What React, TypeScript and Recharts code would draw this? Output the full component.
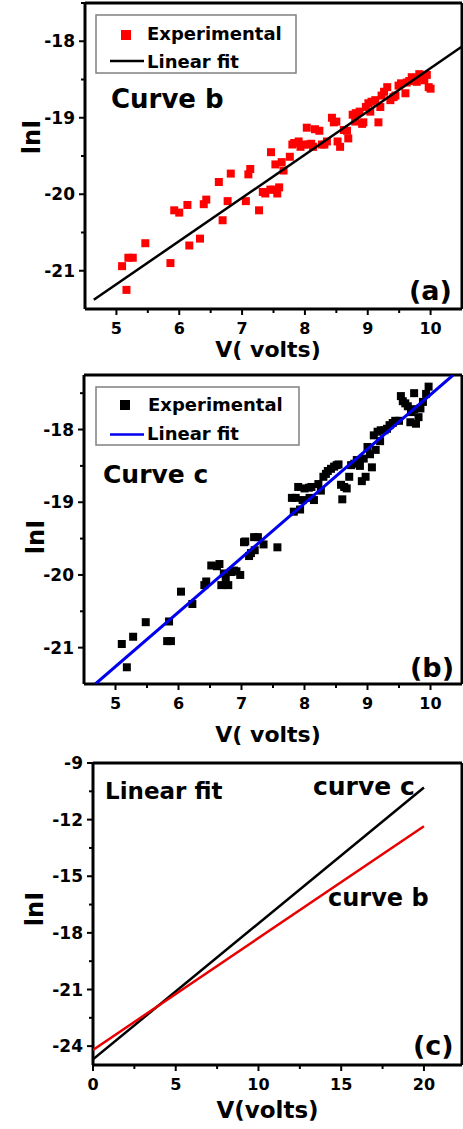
import { ScatterChart, Scatter, XAxis, YAxis, ZAxis, ReferenceLine } from "recharts";

// experimental points, [V (volts), lnI]
const expB: [number, number][] = [
  [5.09, -20.94], [5.16, -21.25], [5.19, -20.83], [5.26, -20.83], [5.46, -20.64],
  [5.86, -20.9], [5.92, -20.21], [6.0, -20.24], [6.13, -20.14], [6.16, -20.67],
  [6.33, -20.58], [6.39, -20.13], [6.43, -20.07], [6.63, -19.84], [6.69, -20.34],
  [6.77, -20.09], [6.82, -19.73], [7.06, -20.09], [7.1, -19.74], [7.13, -19.67],
  [7.27, -20.21], [7.33, -19.97], [7.37, -19.99], [7.45, -19.94], [7.5, -19.94],
  [7.56, -19.99], [7.59, -19.91], [7.53, -19.61], [7.63, -19.58], [7.66, -19.69],
  [7.46, -19.45], [7.76, -19.51], [7.8, -19.35], [7.83, -19.33], [7.9, -19.31],
  [7.93, -19.38], [7.98, -19.35], [8.06, -19.35], [8.1, -19.34], [8.03, -19.13],
  [8.16, -19.15], [8.23, -19.17], [8.13, -19.38], [8.27, -19.35], [8.31, -19.35],
  [8.35, -19.31], [8.43, -19.0], [8.46, -19.06], [8.5, -19.05], [8.52, -19.31],
  [8.56, -19.38], [8.62, -19.16], [8.67, -19.17], [8.69, -19.27], [8.76, -18.96],
  [8.81, -18.94], [8.87, -18.92], [8.8, -19.05], [8.91, -19.08], [8.93, -19.06],
  [8.97, -18.86], [9.01, -18.81], [9.06, -18.79], [9.12, -18.77], [9.04, -18.92],
  [9.17, -19.06], [9.2, -18.86], [9.22, -18.71], [9.26, -18.66], [9.31, -18.6],
  [9.36, -18.77], [9.41, -18.73], [9.44, -18.71], [9.49, -18.58], [9.53, -18.55],
  [9.6, -18.68], [9.62, -18.54], [9.66, -18.52], [9.7, -18.47], [9.74, -18.49],
  [9.78, -18.53], [9.82, -18.43], [9.86, -18.47], [9.9, -18.51], [9.94, -18.44],
  [9.97, -18.6], [10.0, -18.62],
];

const expC: [number, number][] = [
  [5.1, -20.95], [5.18, -21.27], [5.28, -20.85], [5.48, -20.65], [5.82, -20.91],
  [5.88, -20.91], [5.85, -20.64], [6.04, -20.23], [6.22, -20.4], [6.41, -20.14],
  [6.44, -20.09], [6.52, -19.87], [6.61, -19.88], [6.65, -19.85], [6.68, -20.14],
  [6.72, -19.98], [6.75, -20.04], [6.79, -20.14], [6.84, -19.96], [6.88, -19.94],
  [6.92, -19.95], [6.98, -20.0], [7.04, -19.55], [7.06, -19.54], [7.12, -19.74],
  [7.15, -19.7], [7.21, -19.66], [7.2, -19.48], [7.26, -19.48], [7.35, -19.58],
  [7.57, -19.62], [7.83, -19.13], [7.93, -19.1], [7.8, -18.94], [7.86, -18.94],
  [7.97, -18.97], [7.9, -18.79], [8.0, -18.81], [8.07, -18.8], [8.11, -18.79],
  [8.08, -18.94], [8.15, -18.97], [8.22, -18.75], [8.26, -18.84], [8.3, -18.65],
  [8.34, -18.61], [8.37, -18.57], [8.42, -18.54], [8.47, -18.51], [8.51, -18.49],
  [8.54, -18.48], [8.58, -18.76], [8.63, -18.79], [8.67, -18.81], [8.6, -18.96],
  [8.71, -18.65], [8.74, -18.49], [8.79, -18.47], [8.83, -18.42], [8.88, -18.5],
  [8.91, -18.71], [8.97, -18.65], [8.94, -18.4], [9.0, -18.24], [9.04, -18.34],
  [9.07, -18.52], [9.13, -18.28], [9.1, -18.08], [9.16, -18.03], [9.21, -18.01],
  [9.2, -18.16], [9.27, -18.01], [9.31, -17.99], [9.35, -17.94], [9.4, -17.91],
  [9.44, -17.88], [9.5, -17.88], [9.53, -17.54], [9.56, -17.61], [9.6, -17.64],
  [9.64, -17.68], [9.68, -17.9], [9.77, -17.92], [9.69, -17.76], [9.74, -17.72],
  [9.74, -17.5], [9.81, -17.83], [9.84, -17.71], [9.88, -17.62], [9.93, -17.51],
  [9.97, -17.41],
];

// linear fits (end points)
const fitB: [number, number][] = [[4.64, -21.38], [10.5, -18.07]];
const fitC: [number, number][] = [[4.68, -21.5], [10.36, -17.25]];
const fitCWide: [number, number][] = [[0, -24.7], [20, -10.3]];
const fitBWide: [number, number][] = [[0, -24.2], [20, -12.35]];

// axes
const aXDomain = [4.5, 10.5];
const aYDomain = [-21.5, -17.5];
const bYDomain = [-21.5, -17.25];
const cXDomain = [0, 22.3];
const cYDomain = [-25, -9];
const voltTicks = [5, 5.5, 6, 6.5, 7, 7.5, 8, 8.5, 9, 9.5, 10];
const lnITicks = [-21, -20.5, -20, -19.5, -19, -18.5, -18, -17.5];
const cXTicks = [0, 2.5, 5, 7.5, 10, 12.5, 15, 17.5, 20];
const cYTicks = [-24, -22.5, -21, -19.5, -18, -16.5, -15, -13.5, -12, -10.5, -9];

const FONT = "DejaVu Sans";
const pts = (a: [number, number][]) => a.map(([x, y]) => ({ x, y }));
const isInt = (v: number) => Number.isInteger(v);

const bottomTick = (major: (v: number) => boolean) => (p: any) => {
  const { x, y, payload } = p;
  const big = major(payload.value);
  return (
    <g>
      <line x1={x} y1={y} x2={x} y2={y + (big ? 6 : 4)} stroke="#000" strokeWidth={2} />
      {big && (
        <text x={x} y={y + 25} textAnchor="middle" fontSize={16} fontWeight="bold" fontFamily={FONT} fill="#000">
          {payload.value}
        </text>
      )}
    </g>
  );
};

const leftTick = (major: (v: number) => boolean) => (p: any) => {
  const { x, y, payload } = p;
  const big = major(payload.value);
  return (
    <g>
      <line x1={x - (big ? 6 : 4)} y1={y} x2={x} y2={y} stroke="#000" strokeWidth={2} />
      {big && (
        <text x={x - 10} y={y + 6} textAnchor="end" fontSize={17} fontWeight="bold" fontFamily={FONT} fill="#000">
          {payload.value}
        </text>
      )}
    </g>
  );
};

const axisLine = { stroke: "#000", strokeWidth: 3 };
const noShape = () => <g />;

export default function App() {
  const t = { fontFamily: FONT, fontWeight: "bold" as const, fill: "#000" };
  return (
    <div style={{ position: "absolute", left: 0, top: 0, width: 463, height: 1129, background: "#fff" }}>
      {/* (a) curve b */}
      <div style={{ position: "absolute", left: 0, top: 0 }}>
        <ScatterChart width={463} height={360} margin={{ top: 3, right: 1, bottom: 0, left: 0 }}>
          <XAxis dataKey="x" type="number" domain={aXDomain} ticks={voltTicks} interval={0} allowDataOverflow
            height={51} tickSize={0} tickMargin={0} tickLine={false} axisLine={axisLine} tick={bottomTick(isInt)} />
          <YAxis dataKey="y" type="number" domain={aYDomain} ticks={lnITicks} interval={0} allowDataOverflow
            width={85} tickSize={0} tickMargin={0} tickLine={false} axisLine={axisLine} tick={leftTick(isInt)} />
          <ZAxis range={[40, 40]} />
          <ReferenceLine y={aYDomain[1]} stroke="#000" strokeWidth={3} />
          <ReferenceLine x={aXDomain[1]} stroke="#000" strokeWidth={3} />
          <Scatter data={pts(expB)} fill="#ff0000" shape="square" isAnimationActive={false} />
          <Scatter data={pts(fitB)} line={{ stroke: "#000", strokeWidth: 2.5 }} shape={noShape} isAnimationActive={false} />
        </ScatterChart>
      </div>

      {/* (b) curve c */}
      <div style={{ position: "absolute", left: 0, top: 370 }}>
        <ScatterChart width={463} height={370} margin={{ top: 5, right: 1, bottom: 0, left: 0 }}>
          <XAxis dataKey="x" type="number" domain={aXDomain} ticks={voltTicks} interval={0} allowDataOverflow
            height={56} tickSize={0} tickMargin={0} tickLine={false} axisLine={axisLine} tick={bottomTick(isInt)} />
          <YAxis dataKey="y" type="number" domain={bYDomain} ticks={lnITicks} interval={0} allowDataOverflow
            width={84} tickSize={0} tickMargin={0} tickLine={false} axisLine={axisLine} tick={leftTick(isInt)} />
          <ZAxis range={[40, 40]} />
          <ReferenceLine y={bYDomain[1]} stroke="#000" strokeWidth={3} />
          <ReferenceLine x={aXDomain[1]} stroke="#000" strokeWidth={3} />
          <Scatter data={pts(expC)} fill="#000" shape="square" isAnimationActive={false} />
          <Scatter data={pts(fitC)} line={{ stroke: "#0000ee", strokeWidth: 3 }} shape={noShape} isAnimationActive={false} />
        </ScatterChart>
      </div>

      {/* (c) both fits extended */}
      <div style={{ position: "absolute", left: 0, top: 740 }}>
        <ScatterChart width={463} height={389} margin={{ top: 23, right: 1, bottom: 0, left: 0 }}>
          <XAxis dataKey="x" type="number" domain={cXDomain} ticks={cXTicks} interval={0} allowDataOverflow
            height={64} tickSize={0} tickMargin={0} tickLine={false} axisLine={axisLine} tick={bottomTick((v) => v % 5 === 0)} />
          <YAxis dataKey="y" type="number" domain={cYDomain} ticks={cYTicks} interval={0} allowDataOverflow
            width={93} tickSize={0} tickMargin={0} tickLine={false} axisLine={axisLine} tick={leftTick((v) => v % 3 === 0)} />
          <ReferenceLine y={cYDomain[1]} stroke="#000" strokeWidth={3} />
          <ReferenceLine x={cXDomain[1]} stroke="#000" strokeWidth={3} />
          <Scatter data={pts(fitCWide)} line={{ stroke: "#000", strokeWidth: 2.5 }} shape={noShape} isAnimationActive={false} />
          <Scatter data={pts(fitBWide)} line={{ stroke: "#e80000", strokeWidth: 2.5 }} shape={noShape} isAnimationActive={false} />
        </ScatterChart>
      </div>

      {/* legends and labels */}
      <svg width={463} height={1129} style={{ position: "absolute", left: 0, top: 0, pointerEvents: "none" }}>
        <rect x={96} y={15} width={200} height={58} fill="#fff" stroke="#808080" strokeWidth={1.5} />
        <rect x={121} y={30} width={10} height={10} fill="#ff0000" />
        <text x={147} y={39.5} fontSize={18} {...t}>Experimental</text>
        <line x1={110} y1={61} x2={144} y2={61} stroke="#000" strokeWidth={2.5} />
        <text x={147} y={67.5} fontSize={18} {...t}>Linear fit</text>
        <text x={111} y={108} fontSize={26} {...t}>Curve b</text>
        <text x={409} y={300} fontSize={27} {...t}>(a)</text>
        <text transform="translate(40,137) rotate(-90)" textAnchor="middle" fontSize={24} {...t}>lnI</text>
        <text x={268} y={357} textAnchor="middle" fontSize={22} {...t}>V( volts)</text>

        <rect x={96} y={387} width={203} height={58} fill="#fff" stroke="#808080" strokeWidth={1.5} />
        <rect x={120} y={400} width={10} height={10} fill="#000" />
        <text x={148} y={410.5} fontSize={18} {...t}>Experimental</text>
        <line x1={110} y1={434.5} x2={144} y2={434.5} stroke="#0000ee" strokeWidth={2.5} />
        <text x={147} y={439.5} fontSize={18} {...t}>Linear fit</text>
        <text x={103} y={483} fontSize={25} {...t}>Curve c</text>
        <text x={410} y={677} fontSize={27} {...t}>(b)</text>
        <text transform="translate(44,537) rotate(-90)" textAnchor="middle" fontSize={24} {...t}>lnI</text>
        <text x={268} y={742} textAnchor="middle" fontSize={22} {...t}>V( volts)</text>

        <text x={105} y={799} fontSize={23} {...t}>Linear fit</text>
        <text x={313} y={795} fontSize={25} {...t}>curve c</text>
        <text x={328} y={906} fontSize={24} {...t}>curve b</text>
        <text x={413} y={1055} fontSize={27} {...t}>(c)</text>
        <text transform="translate(43,909) rotate(-90)" textAnchor="middle" fontSize={24} {...t}>lnI</text>
        <text x={267.5} y={1118} textAnchor="middle" fontSize={23} {...t}>V(volts)</text>
      </svg>
    </div>
  );
}
